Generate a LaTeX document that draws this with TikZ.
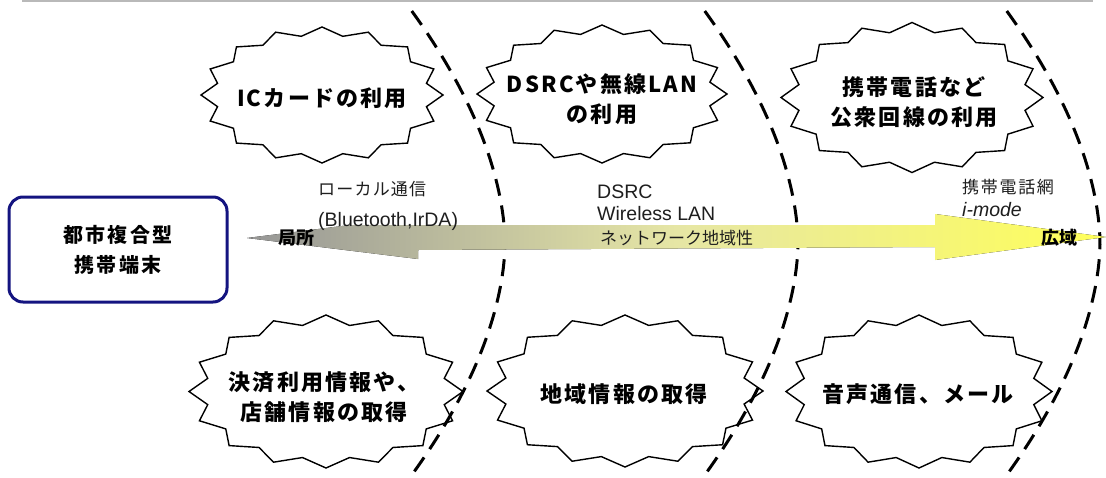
\documentclass[tikz,border=0pt]{standalone}
\usepackage{fontspec}
\setmainfont{Noto Sans CJK JP}
\newfontfamily\latfont{Liberation Sans}
\definecolor{navyc}{RGB}{20,20,128}
\definecolor{agray}{RGB}{150,150,150}
\definecolor{amid}{RGB}{230,230,165}
\definecolor{ayel}{RGB}{255,255,90}
\definecolor{topc}{RGB}{185,185,185}
\definecolor{labelc}{RGB}{30,30,30}
\newcommand\burstshape[4]{%
  \filldraw[burstline, shift={(#1,#2)}] (#3,0)
    \foreach \k in {1,...,31}{ -- ({#3*(0.94+0.06*cos(\k*180))*cos(\k*11.25)}, {#4*(0.94+0.06*cos(\k*180))*sin(\k*11.25)}) } -- cycle;}
\tikzset{
  burstline/.style={draw=black, fill=white, line width=1.4pt, line join=miter},
  bursttext/.style={font=\fontsize{22}{30}\selectfont\bfseries\addfontfeature{LetterSpace=10}, align=center, inner sep=0pt},
  dasharc/.style={draw=black, line width=3pt, dash pattern=on 17pt off 10pt},
  lab/.style={font=\fontsize{17}{20}\selectfont, text=labelc, inner sep=0pt, anchor=west},
  latlab/.style={font=\latfont\fontsize{19.5}{22}\selectfont, text=labelc, inner sep=0pt, anchor=west},
  boldlab/.style={font=\fontsize{18}{20}\selectfont\bfseries, inner sep=0pt},
  termbox/.style={draw=navyc, line width=3pt, rounded corners=14pt, minimum width=218pt, minimum height=105pt, align=center, font=\fontsize{20}{30}\selectfont\bfseries\addfontfeature{LetterSpace=12}},
}
\begin{document}
\begin{tikzpicture}[x=1pt, y=-1pt]
\useasboundingbox (0,0) rectangle (1106,477);
\clip (0,0) rectangle (1106,477);
\fill[white] (0,0) rectangle (1106,477);
\draw[topc, line width=1.5pt] (22,1) -- (1093,1);
% starbursts
\burstshape{322}{95}{121}{68}
\burstshape{602}{94}{125}{69}
\burstshape{912}{97.5}{131}{75}
\burstshape{326}{391.5}{137}{76.5}
\burstshape{625}{391}{138}{76}
\burstshape{919}{391.5}{133}{76.5}
\node[bursttext] (b1) at (322,98) {ICカードの利用};
\node[bursttext] (b2) at (602,99) {DSRCや無線LAN\\の利用};
\node[bursttext] (b3) at (914,102) {携帯電話など\\公衆回線の利用};
\node[bursttext] (b4) at (324,397) {決済利用情報や、\\店舗情報の取得};
\node[bursttext] (b5) at (624,394) {地域情報の取得};
\node[bursttext] (b6) at (918,394) {音声通信、メール};
% dashed arcs
\foreach \ax in {505,798,1100}{
  \draw[dasharc] plot[domain=-232:240, samples=90] ({\ax - 20.5*((abs(\x)+0.01)/100)^1.8}, {243+\x});
}
% double arrow
\fill[left color=agray, right color=ayel, middle color=amid]
  (247,238) -- (418,259) -- (418,250) -- (935,247) -- (935,260) -- (1106,237)
  -- (935,214) -- (935,225) -- (350,225) -- cycle;
% labels
\node[lab, font=\fontsize{17}{20}\selectfont\addfontfeature{LetterSpace=7}] (l1) at (318,189) {ローカル通信};
\node[latlab] (l2) at (318,221) {(Bluetooth,IrDA)};
\node[boldlab] (loc) at (296,238) {局所};
\node[latlab] (l3) at (597,192) {DSRC};
\node[latlab] (l4) at (597,214) {Wireless LAN};
\node[lab] (l5) at (600,238) {ネットワーク地域性};
\node[lab, font=\fontsize{17}{20}\selectfont\addfontfeature{LetterSpace=10}] (l6) at (962,187) {携帯電話網};
\node[latlab, font=\latfont\itshape\fontsize{19.5}{22}\selectfont] (l7) at (962,210) {i-mode};
\node[boldlab] (wide) at (1059,238) {広域};
% terminal box
\node[termbox] (term) at (118,249.5) {都市複合型\\携帯端末};
\end{tikzpicture}
\end{document}
